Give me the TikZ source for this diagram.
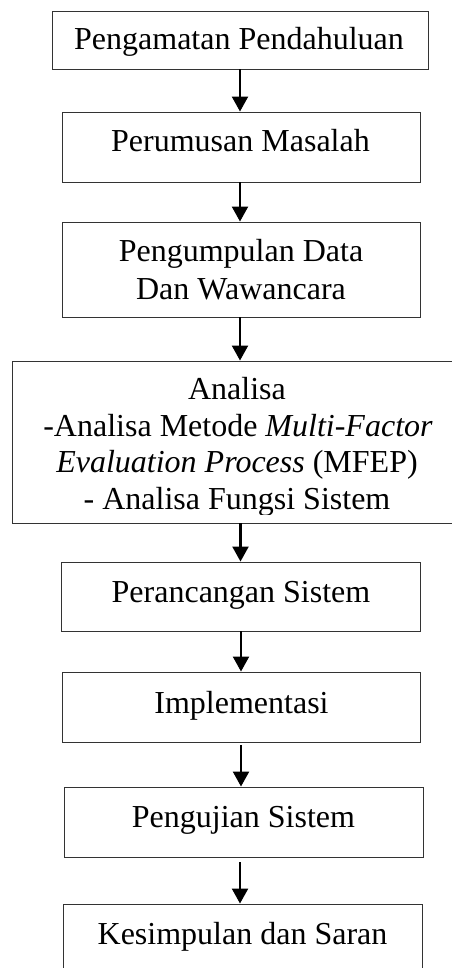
\documentclass[tikz,border=0pt]{standalone}
\usepackage{fontspec}
\setmainfont{Liberation Serif}
\usetikzlibrary{arrows.meta}
\begin{document}
\begin{tikzpicture}[x=1pt,y=-1pt,
  box/.style={draw=black!80, line width=0.9pt, inner sep=0pt, rectangle},
  txt/.style={font=\fontsize{32}{37}\selectfont, inner sep=0pt, anchor=base},
  arr/.style={-{Triangle[length=15pt,width=16pt]}, line width=2.2pt}]
\useasboundingbox (0,0) rectangle (451,968);
% boxes
\node[box, minimum width=376pt, minimum height=58pt] (b1) at (240,40) {};
\node[box, minimum width=358pt, minimum height=70pt] (b2) at (241,147) {};
\node[box, minimum width=358pt, minimum height=95pt] (b3) at (241,269.5) {};
\node[box, minimum width=448pt, minimum height=162pt] (b4) at (236,442) {};
\node[box, minimum width=359pt, minimum height=69pt] (b5) at (240.5,596.5) {};
\node[box, minimum width=358pt, minimum height=70pt] (b6) at (241,707) {};
\node[box, minimum width=359pt, minimum height=70pt] (b7) at (243.5,822) {};
\node[box, minimum width=359pt, minimum height=72pt] (b8) at (242.5,940) {};
% texts
\node[txt] (t1) at (239,50) {Pengamatan Pendahuluan};
\node[txt] (t2) at (240.5,152) {Perumusan Masalah};
\node[txt] (t3a) at (241,261) {Pengumpulan Data};
\node[txt] (t3b) at (241,299) {Dan Wawancara};
\begin{scope}
\clip (12,361) rectangle (460,514);
\node[txt] (t4a) at (237,399) {Analisa};
\node[txt] (t4b) at (238,436) {-Analisa Metode \textit{Multi-Factor}};
\node[txt] (t4c) at (237,472) {\textit{Evaluation Process} (MFEP)};
\node[txt] (t4d) at (237,509) {- Analisa Fungsi Sistem};
\end{scope}
\node[txt] (t5) at (241,602) {Perancangan Sistem};
\node[txt] (t6) at (241.5,713) {Implementasi};
\node[txt] (t7) at (243.5,827) {Pengujian Sistem};
\node[txt] (t8) at (242.5,944) {Kesimpulan dan Saran};
% arrows
\draw[arr] (b1.south) -- (b1.south |- b2.north);
\draw[arr] (b2.south -| b1.south) -- (b1.south |- b3.north);
\draw[arr] (b3.south -| b1.south) -- (b1.south |- b4.north);
\draw[arr] (b5.north |- b4.south) -- (b5.north);
\draw[arr] (b6.north |- b5.south) -- (b6.north);
\draw[arr, shorten <=3pt] (b6.south) -- (b6.south |- b7.north);
\draw[arr, shorten <=5pt] (b1.south |- b7.south) -- (b1.south |- b8.north);
\end{tikzpicture}
\end{document}
